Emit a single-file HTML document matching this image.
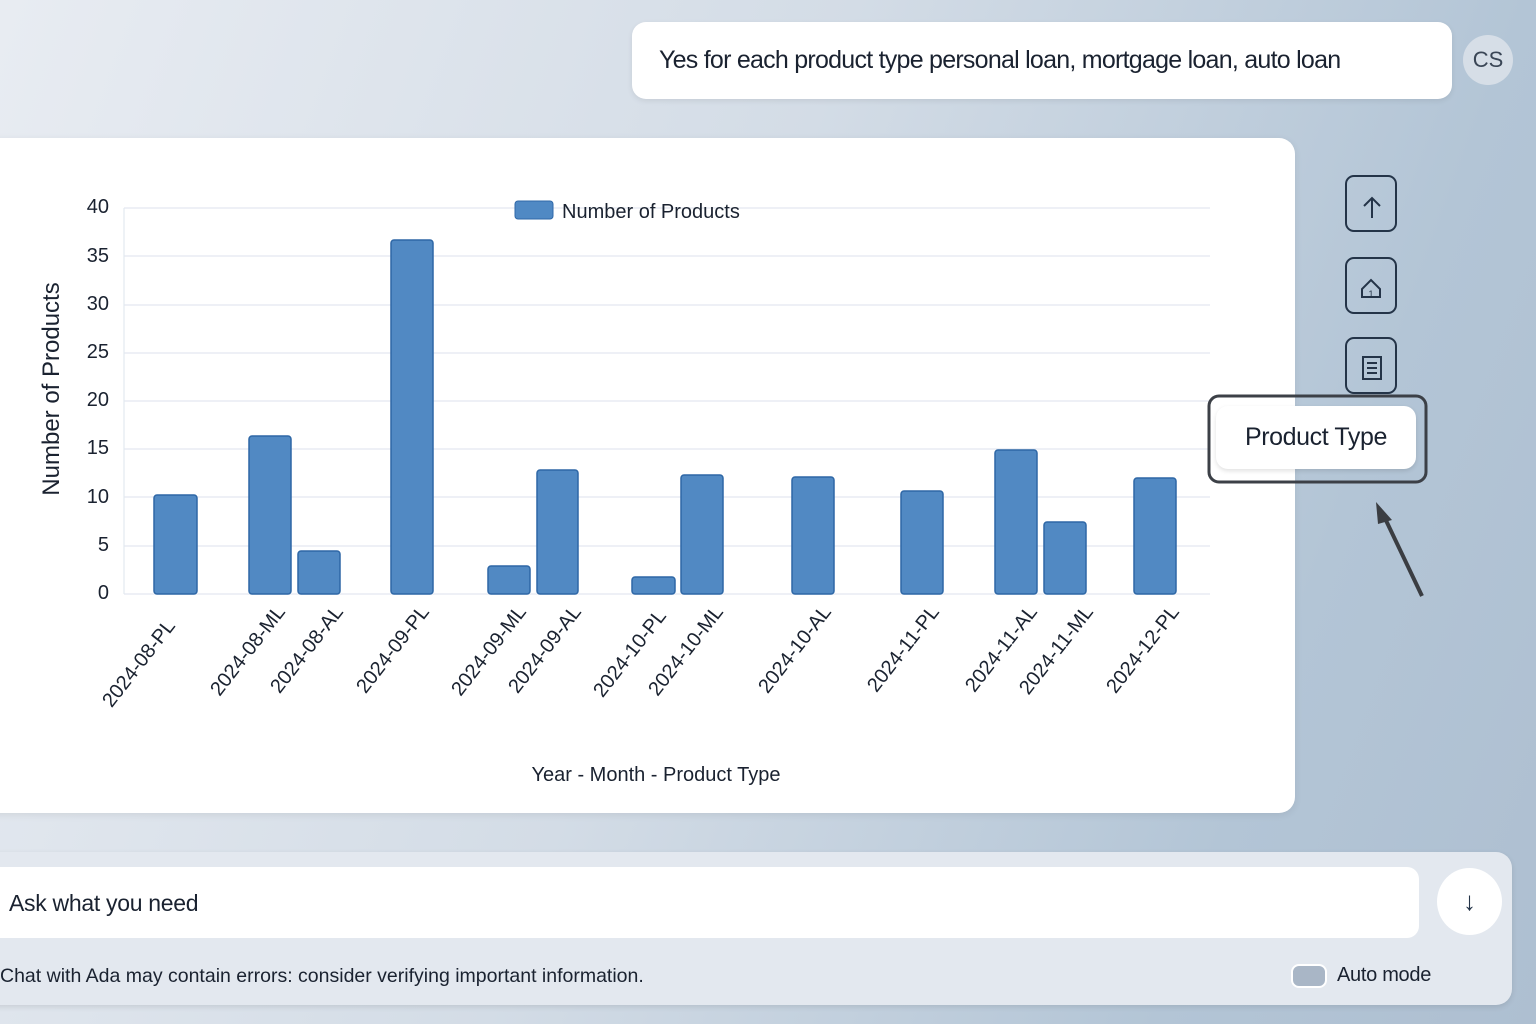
<!DOCTYPE html>
<html><head><style>
html,body{margin:0;padding:0;width:1536px;height:1024px;overflow:hidden}
body{background:linear-gradient(110deg,#e8ecf2 0%,#d3dce6 45%,#b3c5d6 80%,#aebfd1 100%);font-family:"Liberation Sans",sans-serif;position:relative}
.abs{position:absolute}
.bubble{left:632px;top:22px;width:820px;height:77px;background:#fff;border-radius:14px;box-shadow:0 2px 6px rgba(0,0,0,.08)}
.bubble span{position:absolute;left:27px;top:24px;font-size:25px;color:#1a2230;letter-spacing:-0.75px}
.cs{left:1463px;top:35px;width:50px;height:50px;border-radius:50%;background:#d6dee7;color:#3a4656;font-size:22px;text-align:center;line-height:50px}
.card{left:-20px;top:138px;width:1315px;height:675px;background:#fff;border-radius:16px;box-shadow:0 2px 8px rgba(0,0,0,.08)}
.btn{left:1345px;width:52px;height:57px;border:2px solid #243448;border-radius:9px;box-sizing:border-box}
.panel{left:-20px;top:852px;width:1532px;height:153px;background:#e3e8ef;border-radius:16px;box-shadow:0 2px 6px rgba(0,0,0,.1)}
.input{left:-20px;top:867px;width:1439px;height:71px;background:#fff;border-radius:12px}
</style></head><body>
<div class="abs bubble"><span>Yes for each product type personal loan, mortgage loan, auto loan</span></div>
<div class="abs cs">CS</div>
<div class="abs card"></div>
<svg class="abs" style="left:0;top:0" width="1536" height="1024">
<g stroke="#e3e8f0" stroke-width="1.2">
<line x1="124" x2="1210" y1="208" y2="208"/><line x1="124" x2="1210" y1="256" y2="256"/><line x1="124" x2="1210" y1="305" y2="305"/><line x1="124" x2="1210" y1="353" y2="353"/><line x1="124" x2="1210" y1="401" y2="401"/><line x1="124" x2="1210" y1="449" y2="449"/><line x1="124" x2="1210" y1="497" y2="497"/><line x1="124" x2="1210" y1="546" y2="546"/><line x1="124" x2="1210" y1="594" y2="594"/><line x1="124" x2="124" y1="208" y2="594"/>
</g>
<g font-size="20" fill="#1a2230" text-anchor="end">
<text x="109" y="213">40</text><text x="109" y="262">35</text><text x="109" y="310">30</text><text x="109" y="358">25</text><text x="109" y="406">20</text><text x="109" y="454">15</text><text x="109" y="503">10</text><text x="109" y="551">5</text><text x="109" y="599">0</text>
</g>
<text transform="translate(59,389) rotate(-90)" text-anchor="middle" font-size="24" fill="#1a2230">Number of Products</text>
<rect x="515" y="201" width="38" height="18" rx="3" fill="#5089c4" stroke="#2f68a8"/>
<text x="562" y="218" font-size="20" fill="#1a2230">Number of Products</text>
<g fill="#5189c3" stroke="#2e67a6" stroke-width="1.5">
<rect x="154" y="495" width="43" height="99" rx="3"/>
<rect x="249" y="436" width="42" height="158" rx="3"/>
<rect x="298" y="551" width="42" height="43" rx="3"/>
<rect x="391" y="240" width="42" height="354" rx="3"/>
<rect x="488" y="566" width="42" height="28" rx="3"/>
<rect x="537" y="470" width="41" height="124" rx="3"/>
<rect x="632" y="577" width="43" height="17" rx="3"/>
<rect x="681" y="475" width="42" height="119" rx="3"/>
<rect x="792" y="477" width="42" height="117" rx="3"/>
<rect x="901" y="491" width="42" height="103" rx="3"/>
<rect x="995" y="450" width="42" height="144" rx="3"/>
<rect x="1044" y="522" width="42" height="72" rx="3"/>
<rect x="1134" y="478" width="42" height="116" rx="3"/>
</g>
<g font-size="20" fill="#1a2230" text-anchor="end">
<text transform="translate(176,626) rotate(-52)">2024-08-PL</text>
<text transform="translate(286,612) rotate(-52)">2024-08-ML</text>
<text transform="translate(344,612) rotate(-52)">2024-08-AL</text>
<text transform="translate(430,612) rotate(-52)">2024-09-PL</text>
<text transform="translate(527,612) rotate(-52)">2024-09-ML</text>
<text transform="translate(582,612) rotate(-52)">2024-09-AL</text>
<text transform="translate(667,616) rotate(-52)">2024-10-PL</text>
<text transform="translate(724,612) rotate(-52)">2024-10-ML</text>
<text transform="translate(832,612) rotate(-52)">2024-10-AL</text>
<text transform="translate(940,612) rotate(-52)">2024-11-PL</text>
<text transform="translate(1038,612) rotate(-52)">2024-11-AL</text>
<text transform="translate(1094,612) rotate(-52)">2024-11-ML</text>
<text transform="translate(1180,612) rotate(-52)">2024-12-PL</text>
</g>
<text x="656" y="781" text-anchor="middle" font-size="20" fill="#1a2230">Year - Month - Product Type</text>
<g stroke="#243448" stroke-width="2" fill="none">
<path d="M1372 218 V198 M1364 206 L1372 198 L1380 206"/>
<path d="M1362 297 V289 L1371 280 L1380 289 V297 Z"/>
<rect x="1363" y="357" width="18" height="22"/><path d="M1367 363h10M1367 368h10M1367 373h10"/>
</g>
<text x="1371" y="297" font-size="9" text-anchor="middle" fill="#243448">1</text>
<rect x="1209" y="396" width="217" height="86" rx="10" fill="none" stroke="#3c4047" stroke-width="3"/>
<line x1="1422" y1="596" x2="1382" y2="512" stroke="#3a3d42" stroke-width="4"/>
<polygon points="1376,502 1392,520 1378,524" fill="#3a3d42"/>
</svg>
<div class="abs btn" style="top:175px"></div>
<div class="abs btn" style="top:257px"></div>
<div class="abs btn" style="top:337px"></div>
<div class="abs" style="left:1216px;top:406px;width:200px;height:63px;background:#fff;border-radius:12px;box-shadow:0 2px 5px rgba(0,0,0,.12);font-size:25px;color:#1a2230;text-align:center;line-height:63px;letter-spacing:-0.4px">Product Type</div>
<div class="abs panel"></div>
<div class="abs input"><span style="position:absolute;left:29px;top:23px;font-size:23px;color:#1a2230;letter-spacing:-0.3px">Ask what you need</span></div>
<div class="abs" style="left:1437px;top:868px;width:65px;height:67px;border-radius:50%;background:#fff;text-align:center;line-height:66px;font-size:26px;color:#243448">↓</div>
<div class="abs" style="left:0;top:965px;font-size:19.5px;color:#1a2230">Chat with Ada may contain errors: consider verifying important information.</div>
<div class="abs" style="left:1291px;top:964px;width:36px;height:24px;border-radius:8px;background:#a9b6c6;border:2px solid #fff;box-sizing:border-box"></div>
<div class="abs" style="left:1337px;top:964px;font-size:20px;color:#1a2230;letter-spacing:-0.3px">Auto mode</div>
</body></html>
